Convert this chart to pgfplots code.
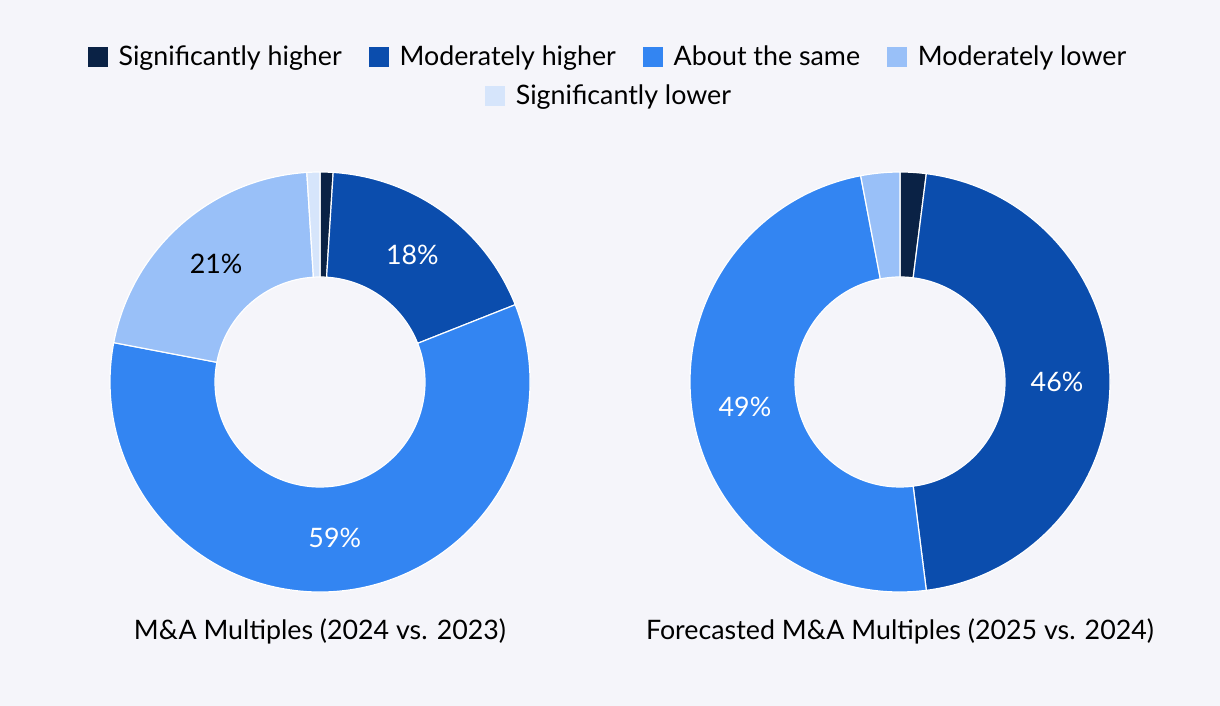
\documentclass[border=0pt]{standalone}
\usepackage{pgfplots}
\usepackage{pgfplotstable}
\pgfplotsset{compat=1.18}
\usepackage{fontspec}
\setmainfont{Lato}

\definecolor{bg}{HTML}{F5F5FA}
\definecolor{c1}{HTML}{0A2245}
\definecolor{c2}{HTML}{0B4DAD}
\definecolor{c3}{HTML}{3385F2}
\definecolor{c4}{HTML}{99C0F8}
\definecolor{c5}{HTML}{D6E5FB}

% share of answers, in %, clockwise from 12 o'clock
\pgfplotstableread{
cat value
1 1
2 18
3 59
4 21
5 1
}\multiplesA
\pgfplotstableread{
cat value
1 2
2 46
3 49
4 3
5 0
}\multiplesB

\newcommand\labfont{\fontsize{13.4}{16}\selectfont}

% donut: table, centre x, centre y (axis units = pixels)
\newcommand\donut[3]{%
  \def\cum{0}%
  \pgfplotsforeachungrouped \i in {0,...,4}{%
    \pgfplotstablegetelem{\i}{value}\of{#1}\let\v\pgfplotsretval
    \pgfmathsetmacro\a{90-3.6*\cum}%
    \pgfmathsetmacro\b{90-3.6*(\cum+\v)}%
    \pgfmathsetmacro\m{(\a+\b)/2}%
    \pgfmathtruncatemacro\k{\i+1}%
    \ifdim\v pt>0pt
      \edef\temp{\noexpand\fill[c\k, draw=white, line width=0.6pt]
        (axis cs:#2,#3) ++(\a:105pt) arc[start angle=\a, end angle=\b, radius=105pt]
        -- ++(\b:-52.5pt) arc[start angle=\b, end angle=\a, radius=52.5pt] -- cycle;}%
      \temp
    \fi
    \ifdim\v pt>4pt
      \ifnum\k>3 \def\tc{black}\else\def\tc{white}\fi
      \edef\temp{\noexpand\node[text=\tc, font=\noexpand\labfont]
        at ([shift={(\m:78.5pt)}]axis cs:#2,#3) {\v\noexpand\%};}%
      \temp
    \fi
    \pgfmathsetmacro\cum{\cum+\v}%
  }%
}

\pgfplotsset{
  donutbase/.style={
    at={(0,0)}, anchor=south west,
    scale only axis, width=610pt, height=353pt,
    xmin=0, xmax=1220, ymin=0, ymax=706,
    hide axis, clip=false,
    legend image code/.code={\fill[##1] (0pt,-4.75pt) rectangle (9.5pt,4.75pt);},
    legend cell align=left,
  },
}

\begin{document}
\begin{tikzpicture}[font=\labfont]
\fill[bg] (0,0) rectangle (610pt,353pt);
\begin{axis}[
  donutbase,
  legend columns=4,
  legend style={at={(axis cs:609,649)}, anchor=center, draw=none, fill=none,
    font=\labfont,
    /tikz/every odd column/.append style={column sep=3.5pt},
    /tikz/every even column/.append style={column sep=11.5pt}},
]
\addlegendimage{c1}\addlegendentry{Significantly higher}
\addlegendimage{c2}\addlegendentry{Moderately higher}
\addlegendimage{c3}\addlegendentry{About the same}
\addlegendimage{c4}\addlegendentry{Moderately lower}
\donut{\multiplesA}{320}{324}
\donut{\multiplesB}{900}{324}
\node at (axis cs:320,75) {M\&A Multiples (2024 vs. 2023)};
\node at (axis cs:900,75) {Forecasted M\&A Multiples (2025 vs. 2024)};
\end{axis}
\begin{axis}[
  donutbase,
  legend style={at={(axis cs:610,610)}, anchor=center, draw=none, fill=none,
    font=\labfont,
    /tikz/every odd column/.append style={column sep=3.5pt}},
]
\addlegendimage{c5}\addlegendentry{Significantly lower}
\end{axis}
\end{tikzpicture}
\end{document}
